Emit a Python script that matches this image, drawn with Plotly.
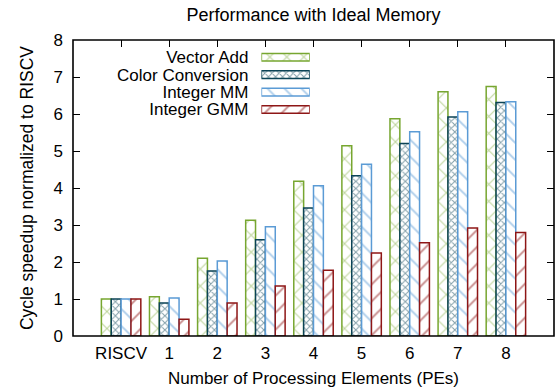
import plotly.graph_objects as go

# ---- data ----
categories = ["RISCV", "1", "2", "3", "4", "5", "6", "7", "8"]
series_names = ["Vector Add", "Color Conversion", "Integer MM", "Integer GMM"]
vector_add = [1.0, 1.06, 2.10, 3.13, 4.18, 5.14, 5.87, 6.60, 6.74]
color_conversion = [1.0, 0.89, 1.76, 2.60, 3.46, 4.33, 5.20, 5.92, 6.31]
integer_mm = [1.0, 1.03, 2.03, 2.95, 4.06, 4.64, 5.52, 6.06, 6.33]
integer_gmm = [1.0, 0.45, 0.89, 1.35, 1.78, 2.24, 2.52, 2.92, 2.80]
y_ticks = [0, 1, 2, 3, 4, 5, 6, 7, 8]

series_values = [vector_add, color_conversion, integer_mm, integer_gmm]

# ---- styles ----
colors = ["#77A630", "#0B4356", "#5B9BD5", "#8E1616"]
shapes_ = ["x", "x", "\\", "/"]
sizes = [12, 5, 12, 12]
solid = [0.16, 0.38, 0.16, 0.16]
FONT = "Liberation Sans, Arial, sans-serif"

fig = go.Figure()
for name, vals, c, sh, sz, so in zip(series_names, series_values, colors, shapes_, sizes, solid):
    fig.add_trace(go.Bar(
        x=categories, y=vals, name=name, showlegend=False,
        marker=dict(color="white", line=dict(color=c, width=1.5),
                    pattern=dict(shape=sh, fgcolor=c, bgcolor="white", size=sz,
                                 solidity=so, fillmode="overlay")),
        xaxis="x", yaxis="y",
    ))

# key drawn as a small inset of horizontal swatch bars
fig.add_trace(go.Bar(
    y=series_names, x=[1] * len(series_names), orientation="h", width=0.44,
    showlegend=False, hoverinfo="skip",
    marker=dict(color="white", line=dict(color=colors, width=1.5),
                pattern=dict(shape=shapes_, fgcolor=colors, bgcolor="white",
                             size=sizes, solidity=solid, fillmode="overlay")),
    xaxis="x2", yaxis="y2",
))

fig.update_layout(
    width=557, height=392,
    margin=dict(l=73, r=3, t=40, b=56),
    paper_bgcolor="white", plot_bgcolor="white",
    font=dict(family=FONT, size=17, color="black"),
    barmode="group", bargap=0.18, bargroupgap=0,
    title=dict(text="Performance with Ideal Memory", x=0.5, xref="paper",
               y=1 - 15 / 392, yref="container", yanchor="middle",
               font=dict(size=18, family=FONT, color="black")),
    xaxis=dict(type="category", range=[-1, 9], domain=[0, 1], anchor="y",
               ticks="inside", ticklen=7, tickwidth=1.2, tickcolor="black",
               mirror="ticks", showline=False, showgrid=False, zeroline=False,
               layer="below traces", ticklabelstandoff=5,
               title=dict(text="Number of Processing Elements (PEs)", standoff=10,
                          font=dict(size=17))),
    yaxis=dict(range=[0, 8], tickvals=y_ticks, domain=[0, 1], anchor="x",
               ticks="inside", ticklen=7, tickwidth=1.2, tickcolor="black",
               mirror="ticks", showline=False, showgrid=False, zeroline=False,
               ticklabelstandoff=9,
               title=dict(text="Cycle speedup normalized to RISCV", standoff=15,
                          font=dict(size=17.5))),
    xaxis2=dict(domain=[0.3917, 0.4922], anchor="y2", range=[0, 1], visible=False,
                fixedrange=True),
    yaxis2=dict(domain=[0.7358, 0.9713], anchor="x2", type="category",
                autorange="reversed", showline=False, ticks="", showgrid=False,
                zeroline=False, ticklabelstandoff=12, fixedrange=True,
                tickmode="array", tickvals=series_names, ticktext=series_names,
                tickfont=dict(size=17)),
    shapes=[dict(type="rect", xref="paper", yref="paper", x0=0, y0=0, x1=1, y1=1,
                 line=dict(color="black", width=1.6), layer="above")],
)

fig.write_html(
    "out.html",
    config={"displayModeBar": False},
    post_script="document.body.style.margin='0';document.body.style.padding='0';",
)
